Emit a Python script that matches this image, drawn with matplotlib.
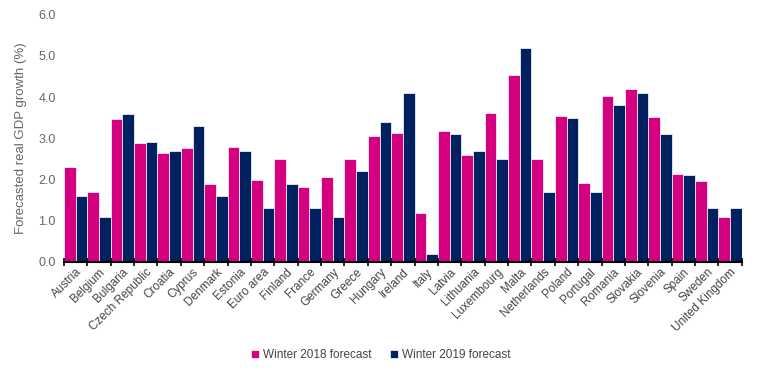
import numpy as np
import matplotlib
matplotlib.use('Agg')
import matplotlib.pyplot as plt

countries = ['Austria', 'Belgium', 'Bulgaria', 'Czech Republic', 'Croatia', 'Cyprus',
             'Denmark', 'Estonia', 'Euro area', 'Finland', 'France', 'Germany', 'Greece',
             'Hungary', 'Ireland', 'Italy', 'Latvia', 'Lithuania', 'Luxembourg', 'Malta',
             'Netherlands', 'Poland', 'Portugal', 'Romania', 'Slovakia', 'Slovenia',
             'Spain', 'Sweden', 'United Kingdom']
winter_2018 = [2.3, 1.7, 3.48, 2.88, 2.65, 2.77, 1.89, 2.79, 2.0, 2.49, 1.83, 2.05, 2.5,
               3.06, 3.13, 1.2, 3.17, 2.59, 3.61, 4.53, 2.49, 3.55, 1.92, 4.03, 4.19, 3.53,
               2.13, 1.96, 1.08]
winter_2019 = [1.6, 1.1, 3.6, 2.9, 2.7, 3.3, 1.6, 2.7, 1.3, 1.9, 1.3, 1.1, 2.2,
               3.4, 4.1, 0.2, 3.1, 2.7, 2.5, 5.2, 1.7, 3.5, 1.7, 3.8, 4.1, 3.1,
               2.1, 1.3, 1.3]
series_names = ['Winter 2018 forecast', 'Winter 2019 forecast']

plt.rcParams['font.family'] = ['Liberation Sans', 'DejaVu Sans']
pink = '#d4007f'
navy = '#002060'
grey = '#666666'

fig = plt.figure(figsize=(7.57, 3.78), dpi=100)
ax = fig.add_axes([0.0845, 0.307, 0.8955, 0.654])

x = np.arange(len(countries))
w = 0.5
ax.bar(x - w / 2, winter_2018, w, color=pink, edgecolor='white', linewidth=0.5, label=series_names[0])
ax.bar(x + w / 2, winter_2019, w, color=navy, edgecolor='white', linewidth=0.5, label=series_names[1])

ax.set_xlim(-0.5, len(countries) - 0.5)
ax.set_ylim(0, 6)
ax.set_yticks(np.arange(0, 6.01, 1.0))
ax.set_yticklabels(['{:.1f}'.format(v) for v in np.arange(0, 6.01, 1.0)], color=grey, fontsize=9)
ax.tick_params(axis='y', length=0, pad=6)

ax.set_xticks(np.arange(-0.5, len(countries), 1.0))
ax.set_xticklabels([])
ax.set_xticks(x, minor=True)
ax.set_xticklabels(countries, minor=True, rotation=45, ha='right', rotation_mode='anchor',
                   fontsize=8.5, color='#444444')
ax.tick_params(axis='x', which='major', direction='inout', length=6, width=1.2, color='black')
ax.tick_params(axis='x', which='minor', length=0, pad=3)

for s in ['top', 'right', 'left']:
    ax.spines[s].set_visible(False)
ax.spines['bottom'].set_linewidth(1.5)

ax.set_ylabel('Forecasted real GDP growth (%)', color=grey, fontsize=9.5, labelpad=8)

fig.legend(loc='center', bbox_to_anchor=(0.503, 0.06), ncol=2, frameon=False,
           fontsize=8.5, handlelength=0.7, handleheight=0.7, handletextpad=0.3,
           columnspacing=1.6, labelcolor='#444444')

fig.savefig('out.png', dpi=100)
